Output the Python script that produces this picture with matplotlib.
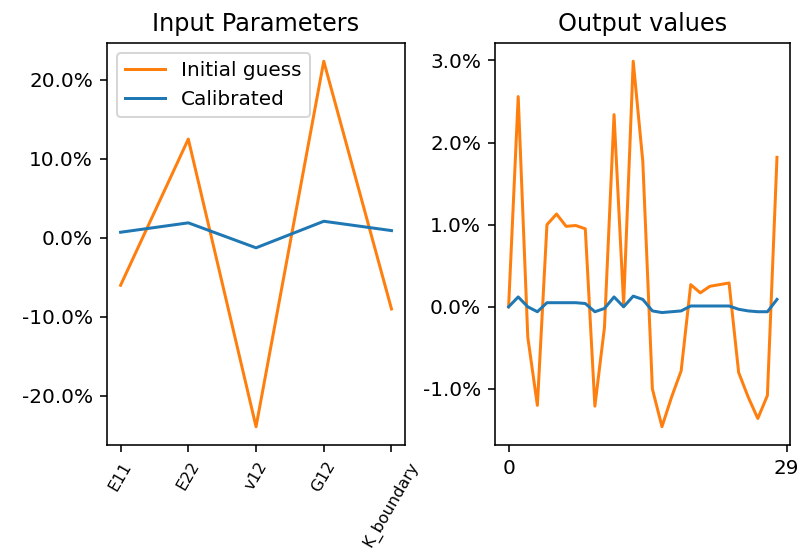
import numpy as np
import matplotlib
matplotlib.use('Agg')
import matplotlib.pyplot as plt
from matplotlib.ticker import PercentFormatter

plt.rcParams['axes.unicode_minus'] = False

# relative deviation of each input parameter
params = ['E11', 'E22', 'v12', 'G12', 'K_boundary']
param_initial = [-0.060, 0.125, -0.239, 0.2235, -0.090]
param_calibrated = [0.0071, 0.0190, -0.0126, 0.0210, 0.0092]

# relative error of each output value
out_initial = [0.0000, 0.0256, -0.0037, -0.0120, 0.0100, 0.0113, 0.0098, 0.0099,
               0.0095, -0.0121, -0.0025, 0.0234, 0.0003, 0.0299, 0.0177, -0.0100,
               -0.0146, -0.0110, -0.0078, 0.0027, 0.0017, 0.0025, 0.0027, 0.0029,
               -0.0080, -0.0110, -0.0136, -0.0108, 0.0182]
out_calibrated = [0.0000, 0.0012, 0.0000, -0.0006, 0.0005, 0.0005, 0.0005, 0.0005,
                  0.0004, -0.0006, -0.0002, 0.0012, 0.0000, 0.0013, 0.0009, -0.0005,
                  -0.0007, -0.0006, -0.0005, 0.0001, 0.0001, 0.0001, 0.0001, 0.0001,
                  -0.0003, -0.0005, -0.0006, -0.0006, 0.0009]

ORANGE = '#ff7f0e'
BLUE = '#1f77b4'

dpi = 144
fig = plt.figure(figsize=(800 / dpi, 551 / dpi), dpi=dpi)
ax1 = fig.add_axes([0.1338, 0.1924, 0.3725, 0.7296])
ax2 = fig.add_axes([0.6190, 0.1924, 0.3690, 0.7296])

ax1.plot(params, param_initial, color=ORANGE, label='Initial guess')
ax1.plot(params, param_calibrated, color=BLUE, label='Calibrated')
ax1.set_title('Input Parameters')
ax1.yaxis.set_major_formatter(PercentFormatter(xmax=1, decimals=1))
ax1.set_yticks([-0.2, -0.1, 0.0, 0.1, 0.2])
ax1.tick_params(axis='x', labelrotation=60, labelsize=8)
ax1.legend(loc='upper left')

x = np.arange(len(out_initial))
ax2.plot(x, out_initial, color=ORANGE)
ax2.plot(x, out_calibrated, color=BLUE)
ax2.set_title('Output values')
ax2.yaxis.set_major_formatter(PercentFormatter(xmax=1, decimals=1))
ax2.set_yticks([-0.01, 0.0, 0.01, 0.02, 0.03])
ax2.set_xticks([0, len(out_initial)])

fig.savefig('out.png', dpi=dpi)
